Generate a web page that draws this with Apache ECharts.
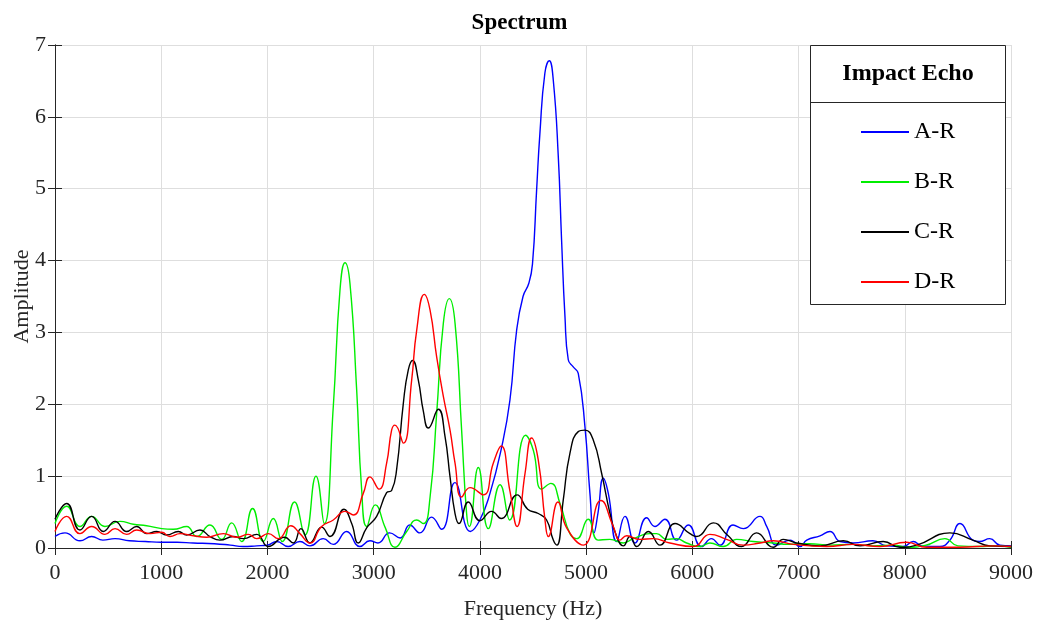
<!DOCTYPE html>
<html>
<head>
<meta charset="utf-8">
<script src="https://cdn.jsdelivr.net/npm/echarts@6/dist/echarts.min.js"></script>
<style>html,body{margin:0;padding:0;background:#fff}#c{width:1039px;height:628px}</style>
</head>
<body>
<div id="c"></div>
<script>
const xTicks = [0,1000,2000,3000,4000,5000,6000,7000,8000,9000];
const yTicks = [0,1,2,3,4,5,6,7];
const seriesNames = ['A-R','B-R','C-R','D-R'];

const freqA = [0,94,235,345,450,565,700,850,1000,1150,1300,1500,1650,1770,1900,2000,2087,2195,2306,2400,2525,2620,2745,2870,2965,3040,3150,3250,3340,3435,3545,3640,3765,3910,4000,4095,4200,4283,4346,4406,4460,4495,4534,4565,4612,4653,4691,4738,4769,4801,4832,4879,4926,4989,5036,5074,5112,5162,5209,5288,5366,5460,5570,5648,5742,5852,5962,6087,6180,6260,6383,6480,6637,6700,6794,6920,7014,7077,7202,7296,7390,7515,7700,7830,7985,8080,8160,8330,8425,8520,8640,8703,8800,8895,9000];
const ampA  = [0.16,0.21,0.10,0.16,0.11,0.13,0.10,0.09,0.08,0.08,0.07,0.06,0.04,0.02,0.03,0.04,0.09,0.02,0.09,0.03,0.13,0.05,0.23,0.02,0.10,0.07,0.21,0.14,0.32,0.21,0.43,0.26,0.91,0.23,0.39,0.76,1.37,2.06,3.03,3.50,3.68,3.95,4.98,5.77,6.61,6.78,6.51,5.45,4.29,3.22,2.62,2.52,2.43,1.69,0.76,0.21,0.49,0.97,0.76,0.09,0.44,0.07,0.42,0.30,0.40,0.11,0.32,0.02,0.13,0.04,0.32,0.27,0.44,0.30,0.04,0.11,0.02,0.11,0.17,0.23,0.09,0.07,0.10,0.03,0.02,0.09,0.03,0.02,0.11,0.34,0.11,0.09,0.13,0.04,0.03];

const freqB = [0,110,235,345,470,612,737,863,1004,1114,1240,1334,1459,1569,1663,1757,1860,1961,2055,2140,2255,2353,2457,2535,2620,2683,2730,2777,2840,2887,2934,3015,3110,3200,3311,3405,3468,3531,3593,3656,3712,3766,3828,3875,3900,3985,4079,4190,4280,4430,4503,4581,4668,4754,4848,4911,5020,5114,5224,5350,5444,5600,5664,5758,5852,5946,6072,6166,6291,6417,6574,6762,6900,7100,7300,7500,7700,7900,8017,8200,8378,8500,8700,8850,9000];
const ampB  = [0.34,0.58,0.30,0.44,0.30,0.37,0.33,0.31,0.27,0.26,0.30,0.16,0.32,0.12,0.35,0.09,0.55,0.09,0.41,0.09,0.64,0.18,1.00,0.34,1.97,3.59,3.97,3.68,2.20,0.81,0.30,0.60,0.28,0.01,0.23,0.39,0.34,0.71,1.87,3.13,3.47,3.13,1.64,0.48,0.30,1.12,0.27,0.88,0.39,1.57,1.36,0.82,0.90,0.62,0.20,0.13,0.40,0.11,0.12,0.07,0.13,0.20,0.20,0.12,0.13,0.07,0.02,0.07,0.02,0.12,0.09,0.07,0.05,0.06,0.04,0.05,0.03,0.04,0.01,0.04,0.13,0.03,0.02,0.03,0.01];

const freqC = [0,110,235,345,455,565,675,769,863,957,1051,1161,1240,1365,1459,1553,1678,1772,1899,2008,2160,2244,2315,2400,2510,2589,2721,2793,2855,2934,3028,3122,3169,3216,3279,3326,3367,3420,3468,3515,3609,3672,3719,3766,3803,3891,4000,4110,4200,4350,4450,4550,4628,4691,4725,4785,4848,4926,4989,5068,5146,5225,5288,5350,5413,5476,5586,5696,5837,5978,6040,6197,6330,6464,6605,6762,6856,6982,7202,7421,7578,7797,7954,8111,8425,8640,8801,9000];
const ampC  = [0.40,0.62,0.25,0.44,0.23,0.37,0.23,0.30,0.20,0.23,0.18,0.23,0.18,0.25,0.16,0.11,0.16,0.13,0.19,0.02,0.15,0.07,0.27,0.07,0.29,0.16,0.54,0.34,0.07,0.28,0.44,0.77,0.80,1.09,2.01,2.48,2.61,2.34,1.90,1.67,1.93,1.55,0.99,0.48,0.34,0.64,0.38,0.51,0.41,0.74,0.54,0.48,0.39,0.11,0.04,0.67,1.32,1.62,1.64,1.50,1.04,0.48,0.16,0.03,0.16,0.02,0.23,0.04,0.34,0.20,0.16,0.35,0.18,0.02,0.21,0.01,0.12,0.07,0.03,0.10,0.03,0.09,0.01,0.04,0.21,0.11,0.03,0.02];

const freqD = [0,110,235,345,470,565,675,769,895,1004,1082,1177,1302,1428,1585,1710,1820,1899,2008,2102,2220,2306,2400,2510,2620,2730,2808,2902,2965,3050,3122,3169,3200,3279,3358,3405,3477,3531,3593,3656,3719,3766,3828,3907,4032,4126,4200,4283,4350,4425,4487,4550,4613,4644,4735,4817,4974,5140,5256,5319,5382,5507,5632,5789,6009,6166,6322,6480,6637,6762,6951,7265,7515,7766,8017,8205,8520,8832,9000];
const ampD  = [0.23,0.44,0.20,0.30,0.19,0.27,0.19,0.25,0.20,0.22,0.16,0.20,0.17,0.15,0.20,0.15,0.19,0.13,0.20,0.13,0.31,0.20,0.07,0.30,0.39,0.51,0.46,0.76,0.99,0.82,1.18,1.64,1.71,1.46,2.34,3.03,3.53,3.31,2.66,2.11,1.64,1.18,0.71,0.84,0.74,1.18,1.42,0.79,0.30,1.04,1.53,1.22,0.39,0.16,0.64,0.28,0.04,0.66,0.30,0.11,0.17,0.12,0.13,0.07,0.02,0.19,0.12,0.04,0.07,0.10,0.05,0.02,0.05,0.02,0.08,0.01,0.01,0.03,0.02];

const colors = ['#0000ff','#00ee00','#000000','#ff0000'];
const FONT = 'Liberation Serif';

function pairs(f, a){ return f.map((v,i)=>[v,a[i]]); }
const dataSets = [pairs(freqA,ampA), pairs(freqB,ampB), pairs(freqC,ampC), pairs(freqD,ampD)];

const chart = echarts.init(document.getElementById('c'), null, {renderer:'canvas'});
const axisCommon = {
  type:'value',
  axisLine:{show:true, lineStyle:{color:'#262626', width:1}},
  axisTick:{show:true, inside:true, length:7, lineStyle:{color:'#262626'}},
};
chart.setOption({
  animation:false,
  backgroundColor:'#fff',
  title:{text:'Spectrum', left:'center', top:12, padding:0,
    textStyle:{fontFamily:FONT, fontWeight:'bold', fontSize:23, color:'#000'}},
  grid:{left:55, right:28, top:45, bottom:80, containLabel:false, outerBoundsMode:'none'},
  xAxis:[
    Object.assign({}, axisCommon, {
      min:xTicks[0], max:xTicks[xTicks.length-1], interval:1000, position:'bottom',
      name:'Frequency (Hz)', nameLocation:'middle', nameGap:50, nameMoveOverlap:false,
      nameTextStyle:{fontFamily:FONT, fontSize:22, color:'#262626'},
      axisLabel:{fontFamily:FONT, fontSize:22, color:'#262626', margin:14, formatter:(v)=>String(v)},
      splitLine:{show:true, lineStyle:{color:'#dedede', width:1}}
    }),
    Object.assign({}, axisCommon, {
      min:xTicks[0], max:xTicks[xTicks.length-1], interval:1000, position:'top',
      axisLabel:{show:false}, splitLine:{show:false}
    })
  ],
  yAxis:[
    Object.assign({}, axisCommon, {
      min:yTicks[0], max:yTicks[yTicks.length-1], interval:1, position:'left',
      name:'Amplitude', nameLocation:'middle', nameGap:22, nameRotate:90, nameMoveOverlap:false,
      nameTextStyle:{fontFamily:FONT, fontSize:22, color:'#262626'},
      axisLabel:{fontFamily:FONT, fontSize:22, color:'#262626', margin:9, formatter:(v)=>String(v)},
      splitLine:{show:true, lineStyle:{color:'#dedede', width:1}}
    }),
    Object.assign({}, axisCommon, {
      min:yTicks[0], max:yTicks[yTicks.length-1], interval:1, position:'right',
      axisLabel:{show:false}, splitLine:{show:false}
    })
  ],
  legend:{
    orient:'vertical', left:856, top:115, itemGap:26,
    itemWidth:48, itemHeight:2, icon:'rect', itemStyle:{borderWidth:0},
    textStyle:{fontFamily:FONT, fontSize:24, color:'#000', padding:[0,0,0,0]},
    data:seriesNames, z:20, selectedMode:false
  },
  graphic:[
    {type:'rect', z:10, shape:{x:810.5, y:45.5, width:195, height:259},
      style:{fill:'#fff', stroke:'#262626', lineWidth:1}},
    {type:'line', z:11, shape:{x1:810.5, y1:102.5, x2:1005.5, y2:102.5},
      style:{stroke:'#262626', lineWidth:1}},
    {type:'text', z:11, x:908, y:74,
      style:{text:'Impact Echo', fontFamily:FONT, fontWeight:'bold', fontSize:24, fill:'#000',
        textAlign:'center', textVerticalAlign:'middle'}}
  ],
  series: seriesNames.map((n,i)=>({
    name:n, type:'line', data:dataSets[i], showSymbol:false, symbol:'none',
    smooth:0.5,
    lineStyle:{color:colors[i], width:1.4}, itemStyle:{color:colors[i]},
    z:2+i
  }))
});
</script>
</body>
</html>
